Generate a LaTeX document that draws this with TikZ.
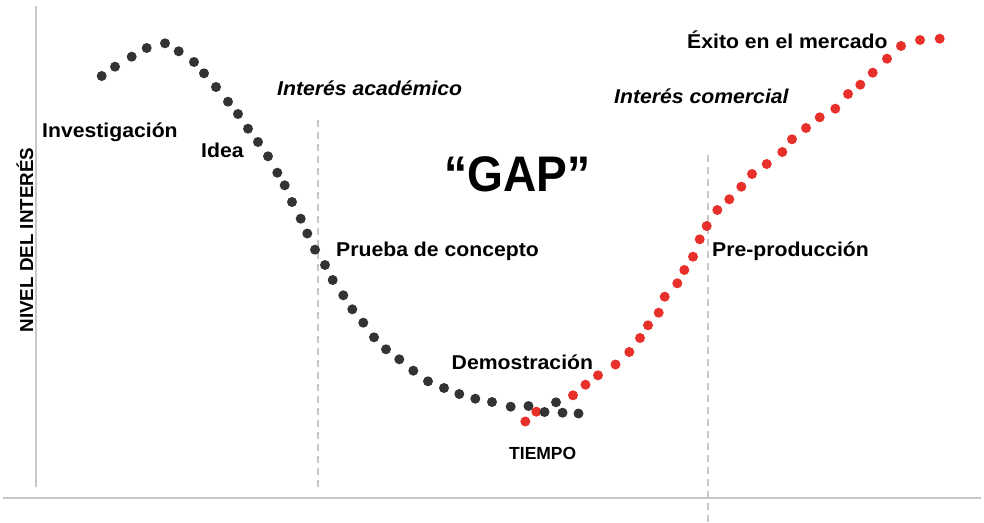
\documentclass[tikz,border=0pt]{standalone}
\usepackage{fontspec}
\setmainfont{Liberation Sans}
\usepackage{tikz}
\tikzset{>=latex}
\definecolor{dotgray}{RGB}{51,51,51}
\definecolor{dotred}{RGB}{232,48,42}
\definecolor{axisgray}{RGB}{200,200,200}
\newcommand*{\lbl}{\bfseries\fontsize{20}{24}\selectfont}

\begin{document}
\begin{tikzpicture}[x=1pt, y=-1pt,
    axis/.style={axisgray, line width=2pt},
    phase/.style={axisgray, line width=1.6pt, dash pattern=on 7pt off 5pt},
    stage/.style={inner sep=0pt, anchor=base west, xscale=1.06, font=\lbl},
    zone/.style={inner sep=0pt, anchor=base west, xscale=1.06, font=\lbl\itshape}]
    \useasboundingbox(0, 0)rectangle(984, 522);
    \coordinate(yTop)at(36, 6);
    \coordinate(yBot)at(36, 487);
    \coordinate(xL)at(3, 498);
    \coordinate(xR)at(981, 498);
    \coordinate(acTop)at(318, 120);
    \coordinate(acBot)at(318, 490);
    \coordinate(coTop)at(708, 155);
    \coordinate(coBot)at(708, 522);
    \draw[axis](yTop)--(yBot);
    \draw[axis](xL)--(xR);
    \draw[phase](acTop)--(acBot);
    \draw[phase](coTop)--(coBot);
    % commercial curve
    \foreach \x/\y in {525.3/421.5, 536.3/411.7, 573/395.3, 585.5/384.7, 598/375.3, 615.5/364.5,
        629.3/352, 640/338, 648/325.3, 658.7/312.7, 664.7/296.7, 677.3/283.3, 684.3/270,
        693/256.7, 699.7/239.3, 706.7/226, 717.3/210, 729.3/199.3, 741.3/186.7, 752/174,
        766.7/164, 782.3/152, 792/139.3, 806/128, 819.7/117.3, 835.3/108.7, 848/94,
        860.3/84.7, 872.7/72.7, 887/58.7, 901/46, 920/40, 939.7/38.7}
        \fill[dotred](\x, \y)circle(5);
    % academic curve
    \foreach \x/\y in {101.7/76, 115/66.7, 131.7/56.7, 146.7/48, 165/43.3, 178.7/51.3, 194/62,
        204/73.3, 216/87, 228/101.7, 238/114, 248/128.7, 258/142, 268/156.3, 277.3/172.7,
        284.7/185.3, 292/202, 300.7/218.7, 307.3/233.5, 315/249.7, 325/265, 332.7/280,
        343.3/295.3, 352.3/309.3, 363.3/322.7, 374/337.3, 386/349.3, 399.3/359.3,
        413.3/370.7, 428/381.3, 444/388, 459.3/394, 475.3/398.7, 492/402, 510.7/406.7,
        528.5/406, 544.5/412, 556/402.3, 562.5/412.7, 578.5/413.5}
        \fill[dotgray](\x, \y)circle(5);
    \node[stage](inv)at(42, 137){Investigación};
    \node[stage](idea)at(201, 157){Idea};
    \node[zone](acad)at(277, 95){Interés académico};
    \node[stage, xscale=0.87, font=\bfseries\fontsize{50}{56}\selectfont](gap)at(444, 191.5){“GAP”};
    \node[stage](pdc)at(336, 256.5){Prueba de concepto};
    \node[stage](demo)at(451.5, 369.3){Demostración};
    \node[stage, xscale=0.943, font=\bfseries\fontsize{17.5}{20}\selectfont](time)at(509, 459.3){TIEMPO};
    \node[zone](com)at(614, 103.3){Interés comercial};
    \node[stage](exito)at(687, 48.3){Éxito en el mercado};
    \node[stage](pre)at(712, 256.7){Pre-producción};
    \node[inner sep=0pt, rotate=90, font=\bfseries\fontsize{18.8}{22}\selectfont](nivel)at(25, 240){NIVEL DEL INTERÉS};
\end{tikzpicture}
\end{document}
